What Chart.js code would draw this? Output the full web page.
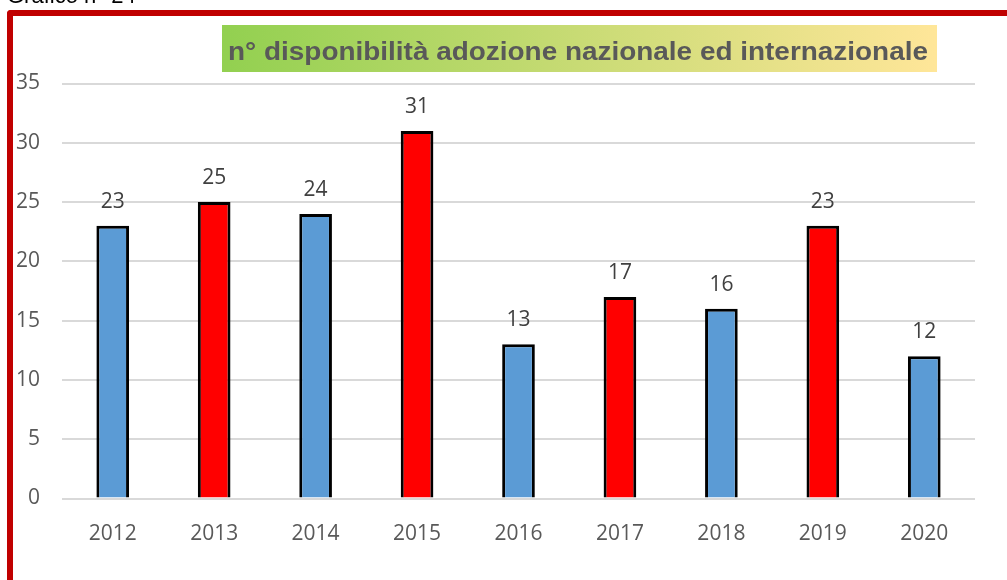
<!DOCTYPE html>
<html>
<head>
<meta charset="utf-8">
<script src="https://cdn.jsdelivr.net/npm/chart.js@4.4.1/dist/chart.umd.min.js"></script>
<style>
  html, body { margin: 0; padding: 0; background: #fff; }
  #wrap { position: relative; width: 1007px; height: 580px; overflow: hidden; background: #fff; }
  #chart { position: absolute; left: 0; top: 0; }
  #caption { position: absolute; left: 7px; top: -15px; font: 22px "Liberation Sans", Arial, sans-serif; line-height: 22px; color: #000; white-space: nowrap; }
  #frame { position: absolute; left: 7px; top: 10px; width: 1200px; height: 800px; border-left: 6px solid #c00000; border-top: 6px solid #c00000; border-top-left-radius: 4px; box-sizing: border-box; }
  #titlebox { position: absolute; left: 222px; top: 25px; width: 715px; height: 47px; background: linear-gradient(to right, #92d050, #ffe699); }
  #titletext { position: absolute; left: 6px; top: 3px; font: bold 26px "Liberation Sans Narrow", "Liberation Sans", Arial, sans-serif; line-height: 47px; color: #595959; white-space: nowrap; transform-origin: 0 50%; display: inline-block; }
</style>
</head>
<body>
<div id="wrap">
  <canvas id="chart" width="1007" height="580"></canvas>
  <div id="caption">Grafico n° 24 -</div>
  <div id="frame"></div>
  <div id="titlebox"><span id="titletext">n° disponibilità adozione nazionale ed internazionale</span></div>
</div>
<script>
const categories = ['2012', '2013', '2014', '2015', '2016', '2017', '2018', '2019', '2020'];
const values = [23, 25, 24, 31, 13, 17, 16, 23, 12];
const barColors = ['#5b9bd5', '#ff0000', '#5b9bd5', '#ff0000', '#5b9bd5', '#ff0000', '#5b9bd5', '#ff0000', '#5b9bd5'];
const yMin = 0;
const yMax = 35;
const yStep = 5;

// fit the title text to the box width
(function () {
  const t = document.getElementById('titletext');
  const w = t.getBoundingClientRect().width;
  const target = 700;
  t.style.transform = 'scaleX(' + (target / w) + ')';
})();

const numFont = { family: '"Open Sans", "Liberation Sans", sans-serif', size: 21 };

const valueLabels = {
  id: 'valueLabels',
  afterDatasetsDraw(chart) {
    const ctx = chart.ctx;
    const meta = chart.getDatasetMeta(0);
    ctx.save();
    ctx.font = '21px "Open Sans", "Liberation Sans", sans-serif';
    ctx.fillStyle = '#404040';
    ctx.textAlign = 'center';
    ctx.textBaseline = 'alphabetic';
    meta.data.forEach((bar, i) => {
      ctx.fillText(String(chart.data.datasets[0].data[i]), bar.x, bar.y - 18);
    });
    ctx.restore();
  }
};

new Chart(document.getElementById('chart'), {
  type: 'bar',
  data: {
    labels: categories,
    datasets: [{
      data: values,
      backgroundColor: barColors,
      borderColor: '#000000',
      borderWidth: 3,
      barPercentage: 0.322,
      categoryPercentage: 1.0
    }]
  },
  options: {
    responsive: false,
    animation: false,
    devicePixelRatio: 1,
    layout: { padding: { left: 0, top: 83.5, right: 32, bottom: 21.5 } },
    plugins: { legend: { display: false }, tooltip: { enabled: false }, title: { display: false } },
    scales: {
      x: {
        grid: { display: false, drawTicks: false },
        border: { display: false },
        ticks: { font: numFont, color: '#595959', padding: 23, maxRotation: 0 },
        afterFit(s) { s.height = 60; }
      },
      y: {
        min: yMin,
        max: yMax,
        grid: { color: '#d9d9d9', lineWidth: 2, drawTicks: false },
        border: { display: false },
        ticks: { stepSize: yStep, font: numFont, color: '#595959', padding: 22 },
        afterFit(s) { s.width = 62; }
      }
    }
  },
  plugins: [valueLabels]
});
</script>
</body>
</html>
